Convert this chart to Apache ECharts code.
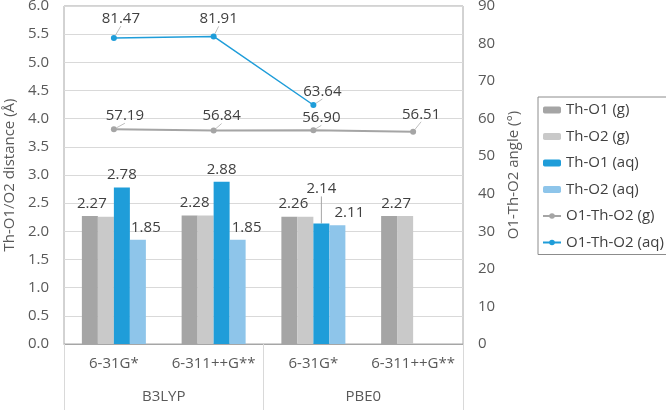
<!DOCTYPE html>
<html>
<head>
<meta charset="utf-8">
<script src="https://cdn.jsdelivr.net/npm/echarts@6/dist/echarts.min.js"></script>
<style>
  html, body { margin: 0; padding: 0; background: #fff; }
  #chart { width: 666px; height: 410px; }
</style>
</head>
<body>
<div id="chart"></div>
<script>
// basis sets and functionals (two-level x axis)
const basisSets = ['6-31G*', '6-311++G**', '6-31G*', '6-311++G**'];
const functionals = ['B3LYP', 'PBE0'];

// bond distances (Å)
const thO1Gas = [2.27, 2.28, 2.26, 2.27];
const thO2Gas = [2.26, 2.28, 2.26, 2.27];
const thO1Aq = [2.78, 2.88, 2.14, null];
const thO2Aq = [1.85, 1.85, 2.11, null];

// O1-Th-O2 angle (deg)
const angleGas = [57.19, 56.84, 56.90, 56.51];
const angleAq = [81.47, 81.91, 63.64, null];

// left / right axis ticks
const distTicks = { min: 0, max: 6, step: 0.5 };
const angleTicks = { min: 0, max: 90, step: 10 };

// label nudges (px), like the hand-placed labels in the original
const shiftThO1Gas = [[2, 0], [5, 0], [4, 0], [7, 0]];
const shiftThO1Aq = [[0, 0], [0, 0], [0, -22], [0, 0]];
const shiftThO2Aq = [[8, 0], [9, 0], [12, 0], [0, 0]];
const shiftAngleGas = [[11, 2], [8, 1], [8, 3], [8, -2]];
const shiftAngleAq = [[7, -4], [5, -2], [9, 2], [0, 0]];

const FONT = 'Open Sans';
const TXT = '#404040';
const AXT = '#595959';

const fmt2 = p => (p.value == null ? '' : Number(p.value).toFixed(2));
const byIndex = shifts => params => {
  const s = shifts[params.dataIndex] || [0, 0];
  return { dx: s[0], dy: s[1] };
};

const chart = echarts.init(document.getElementById('chart'));

const barBase = {
  type: 'bar',
  barWidth: 16,
  barGap: '0%',
  xAxisIndex: 0,
  yAxisIndex: 0
};

const option = {
  animation: false,
  textStyle: { fontFamily: FONT },
  grid: {
    left: 64, right: 203, top: 6, bottom: 66,
    outerBoundsMode: 'none',
    containLabel: false,
    show: true, borderColor: '#a6a6a6', borderWidth: 1
  },
  legend: {
    orient: 'vertical',
    left: 538, top: 97,
    padding: [5, 4, 4, 4],
    borderColor: '#8c8c8c', borderWidth: 1,
    itemWidth: 18, itemHeight: 7, itemGap: 10.5,
    textStyle: { fontSize: 15, color: TXT, fontFamily: FONT, lineHeight: 16 },
    data: ['Th-O1 (g)', 'Th-O2 (g)', 'Th-O1 (aq)', 'Th-O2 (aq)', 'O1-Th-O2 (g)', 'O1-Th-O2 (aq)']
  },
  xAxis: [
    {
      type: 'category',
      data: basisSets,
      position: 'bottom',
      axisLine: { lineStyle: { color: '#a6a6a6' } },
      axisTick: { show: false },
      axisLabel: { fontSize: 15, color: AXT, margin: 12, interval: 0 }
    },
    {
      type: 'category',
      data: functionals,
      position: 'bottom',
      offset: 0,
      axisLine: { show: false },
      axisTick: { show: true, length: 66, lineStyle: { color: '#d9d9d9' } },
      axisLabel: { fontSize: 15, color: AXT, margin: 45 }
    }
  ],
  yAxis: [
    {
      type: 'value',
      min: distTicks.min, max: distTicks.max, interval: distTicks.step,
      name: 'Th-O1/O2 distance (Å)',
      nameLocation: 'middle', nameRotate: 90, nameGap: 45,
      nameTextStyle: { fontSize: 15, color: AXT },
      axisLine: { show: false },
      axisTick: { show: false },
      axisLabel: { fontSize: 15, color: AXT, margin: 15, formatter: v => v.toFixed(1) },
      splitLine: { lineStyle: { color: '#d9d9d9' } }
    },
    {
      type: 'value',
      min: angleTicks.min, max: angleTicks.max, interval: angleTicks.step,
      name: 'O1-Th-O2 angle (°)',
      nameLocation: 'middle', nameRotate: 90, nameGap: 41,
      nameTextStyle: { fontSize: 15, color: AXT },
      axisLine: { show: false },
      axisTick: { show: false },
      axisLabel: { fontSize: 15, color: AXT, margin: 15 },
      splitLine: { show: false }
    }
  ],
  series: [
    {
      ...barBase,
      name: 'Th-O1 (g)',
      data: thO1Gas,
      itemStyle: { color: '#a5a5a5' },
      label: { show: true, position: 'top', distance: 5, fontSize: 15, color: TXT, formatter: fmt2 },
      labelLayout: byIndex(shiftThO1Gas)
    },
    {
      ...barBase,
      name: 'Th-O2 (g)',
      data: thO2Gas,
      itemStyle: { color: '#c9c9c9' }
    },
    {
      ...barBase,
      name: 'Th-O1 (aq)',
      data: thO1Aq.map((v, i) => (shiftThO1Aq[i][1] !== 0
        ? { value: v, labelLine: { show: true, lineStyle: { color: '#a6a6a6', width: 1 } } }
        : v)),
      itemStyle: { color: '#1f9dd9' },
      label: { show: true, position: 'top', distance: 5, fontSize: 15, color: TXT, formatter: fmt2 },
      labelLayout: byIndex(shiftThO1Aq)
    },
    {
      ...barBase,
      name: 'Th-O2 (aq)',
      data: thO2Aq,
      itemStyle: { color: '#8ec5ea' },
      label: { show: true, position: 'top', distance: 5, fontSize: 15, color: TXT, formatter: fmt2 },
      labelLayout: byIndex(shiftThO2Aq)
    },
    {
      type: 'line',
      name: 'O1-Th-O2 (g)',
      xAxisIndex: 0, yAxisIndex: 1,
      data: angleGas,
      color: '#a5a5a5',
      lineStyle: { color: '#a5a5a5', width: 2 },
      itemStyle: { color: '#a5a5a5' },
      symbol: 'circle', symbolSize: 6,
      label: { show: true, position: 'top', distance: 5, fontSize: 15, color: TXT, formatter: fmt2 },
      labelLayout: byIndex(shiftAngleGas),
      labelLine: { show: true, lineStyle: { color: '#bfbfbf', width: 1 } }
    },
    {
      type: 'line',
      name: 'O1-Th-O2 (aq)',
      xAxisIndex: 0, yAxisIndex: 1,
      data: angleAq,
      color: '#1f9dd9',
      lineStyle: { color: '#1f9dd9', width: 1.5 },
      itemStyle: { color: '#1f9dd9' },
      symbol: 'circle', symbolSize: 6,
      label: { show: true, position: 'top', distance: 5, fontSize: 15, color: TXT, formatter: fmt2 },
      labelLayout: byIndex(shiftAngleAq),
      labelLine: { show: true, lineStyle: { color: '#bfbfbf', width: 1 } }
    }
  ]
};

chart.setOption(option);
</script>
</body>
</html>
